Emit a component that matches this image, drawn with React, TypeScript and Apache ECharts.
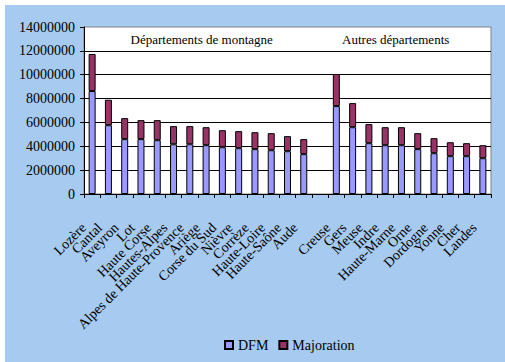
import React, { useEffect, useRef } from "react";
import * as echarts from "echarts";

const categories = [
  "Lozère", "Cantal", "Aveyron", "Lot", "Haute Corse", "Hautes-Alpes",
  "Alpes de Haute-Provence", "Ariège", "Corse du Sud", "Nièvre", "Corrèze",
  "Haute-Loire", "Haute-Saône", "Aude", "", "Creuse", "Gers", "Meuse", "Indre",
  "Haute-Marne", "Orne", "Dordogne", "Yonne", "Cher", "Landes",
];

const dfm = [
  8630000, 5770000, 4600000, 4600000, 4510000, 4170000, 4170000, 4090000,
  3920000, 3840000, 3760000, 3670000, 3590000, 3340000, null,
  7370000, 5600000, 4260000, 4090000, 4090000, 3760000, 3420000, 3170000, 3170000, 3000000,
];

const majoration = [
  3110000, 2130000, 1760000, 1590000, 1680000, 1520000, 1520000, 1510000,
  1430000, 1430000, 1420000, 1430000, 1260000, 1260000, null,
  2690000, 2020000, 1600000, 1510000, 1510000, 1340000, 1260000, 1170000, 1090000, 1090000,
];

const groupTitles = ["Départements de montagne", "Autres départements"];
const seriesNames = ["DFM", "Majoration"];

const FONT = "Liberation Serif";

export default function App() {
  const ref = useRef<HTMLDivElement>(null);
  useEffect(() => {
    if (!ref.current) return;
    const chart = echarts.init(ref.current, null, { renderer: "svg" });
    chart.setOption({
      animation: false,
      backgroundColor: "#A6CAF0",
      textStyle: { fontFamily: FONT, color: "#000" },
      grid: {
        left: 79,
        top: 22,
        right: 14,
        bottom: 168,
        show: true,
        backgroundColor: "#ffffff",
        borderColor: "#808080",
        borderWidth: 1,
      },
      legend: {
        left: 214,
        top: 328,
        itemWidth: 8,
        itemHeight: 8,
        itemGap: 10,
        icon: "rect",
        textStyle: { fontFamily: FONT, fontSize: 14, color: "#000" },
        data: seriesNames,
      },
      title: [
        {
          text: groupTitles[0],
          left: 196.7,
          top: 34,
          textAlign: "center",
          textVerticalAlign: "middle",
          padding: 0,
          textStyle: { fontFamily: FONT, fontSize: 13, fontWeight: "normal", color: "#000" },
        },
        {
          text: groupTitles[1],
          left: 390.7,
          top: 34,
          textAlign: "center",
          textVerticalAlign: "middle",
          padding: 0,
          textStyle: { fontFamily: FONT, fontSize: 13, fontWeight: "normal", color: "#000" },
        },
      ],
      xAxis: {
        type: "category",
        data: categories,
        axisLine: { lineStyle: { color: "#000", width: 1 } },
        axisTick: { show: true, length: 4, lineStyle: { color: "#000" }, interval: 0 },
        axisLabel: {
          interval: 0,
          rotate: 45,
          margin: 23,
          padding: [0, 12, 0, 0],
          fontSize: 14,
          fontFamily: FONT,
          color: "#000",
        },
      },
      yAxis: {
        type: "value",
        min: 0,
        max: 14000000,
        interval: 2000000,
        axisLine: { show: true, lineStyle: { color: "#000", width: 1 } },
        axisTick: { show: true, length: 4, lineStyle: { color: "#000" } },
        axisLabel: {
          margin: 9,
          fontSize: 14,
          fontFamily: FONT,
          color: "#000",
          formatter: (v: number) => String(v),
        },
        splitLine: { show: true, showMaxLine: false, lineStyle: { color: "#000", width: 1 } },
      },
      series: [
        {
          name: seriesNames[0],
          type: "bar",
          stack: "total",
          data: dfm,
          barWidth: 7,
          itemStyle: { color: "#9999FF", borderColor: "#000", borderWidth: 1 },
        },
        {
          name: seriesNames[1],
          type: "bar",
          stack: "total",
          data: majoration,
          barWidth: 7,
          itemStyle: { color: "#993366", borderColor: "#000", borderWidth: 1 },
        },
      ],
    });
    return () => chart.dispose();
  }, []);
  return (
    <div style={{ position: "fixed", left: 0, top: 0, width: 505, height: 362, background: "#fff" }}>
      <div ref={ref} style={{ position: "absolute", left: 5, top: 5, width: 500, height: 357 }} />
    </div>
  );
}
